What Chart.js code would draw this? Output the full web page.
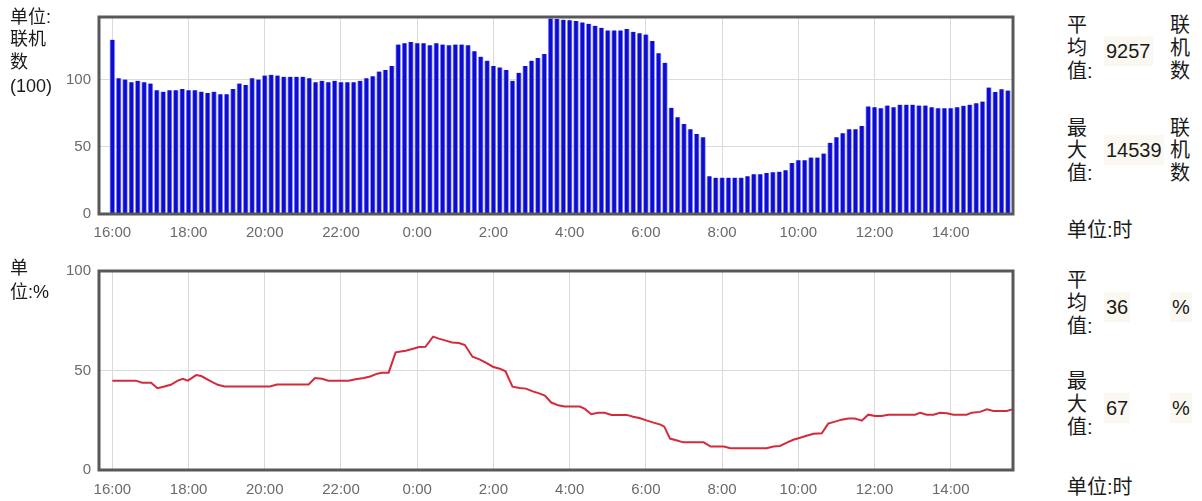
<!DOCTYPE html>
<html>
<head>
<meta charset="utf-8">
<script src="https://cdn.jsdelivr.net/npm/chart.js@4/dist/chart.umd.min.js"></script>
<style>
    body { margin: 0; background: #fff; width: 1202px; height: 501px; overflow: hidden; position: relative; }
    canvas { position: absolute; left: 0; }
    .t { position: absolute; font-family: "Liberation Sans", "Noto Sans CJK SC", sans-serif; color: #1a1a1a; white-space: nowrap; }
    .izq { font-size: 18px; line-height: 22px; }
    .der { font-size: 20px; line-height: 22px; }
    .num { background: #fbf8f1; padding: 4px 2px; }
</style>
</head>
<body>

<canvas id="graficaLinea" width="1040" height="251" style="top:250px"></canvas>
<canvas id="graficaBarras" width="1040" height="245" style="top:0px"></canvas>

<!-- textos de la izquierda -->
<div class="t izq" style="left:10px;top:6px">单位:</div>
<div class="t izq" style="left:10px;top:28px">联机</div>
<div class="t izq" style="left:10px;top:51px">数</div>
<div class="t izq" style="left:10px;top:75px">(100)</div>
<div class="t izq" style="left:10px;top:257px">单</div>
<div class="t izq" style="left:10px;top:281px">位:%</div>

<!-- panel derecho arriba -->
<div class="t der" style="left:1067px;top:14px">平</div>
<div class="t der" style="left:1067px;top:37px">均</div>
<div class="t der" style="left:1067px;top:60px">值:</div>
<div class="t der num" id="promedioBarras" style="left:1104px;top:36px"></div>
<div class="t der" style="left:1170px;top:14px">联</div>
<div class="t der" style="left:1170px;top:37px">机</div>
<div class="t der" style="left:1170px;top:60px">数</div>

<div class="t der" style="left:1067px;top:117px">最</div>
<div class="t der" style="left:1067px;top:139px">大</div>
<div class="t der" style="left:1067px;top:162px">值:</div>
<div class="t der num" id="maximoBarras" style="left:1104px;top:135px"></div>
<div class="t der" style="left:1170px;top:117px">联</div>
<div class="t der" style="left:1170px;top:139px">机</div>
<div class="t der" style="left:1170px;top:162px">数</div>

<div class="t der" style="left:1067px;top:219px">单位:时</div>

<!-- panel derecho abajo -->
<div class="t der" style="left:1067px;top:269px">平</div>
<div class="t der" style="left:1067px;top:292px">均</div>
<div class="t der" style="left:1067px;top:315px">值:</div>
<div class="t der num" id="promedioLinea" style="left:1104px;top:292px"></div>
<div class="t der num" style="left:1170px;top:292px">%</div>

<div class="t der" style="left:1067px;top:370px">最</div>
<div class="t der" style="left:1067px;top:393px">大</div>
<div class="t der" style="left:1067px;top:416px">值:</div>
<div class="t der num" id="maximoLinea" style="left:1104px;top:393px"></div>
<div class="t der num" style="left:1170px;top:393px">%</div>

<div class="t der" style="left:1067px;top:476px">单位:时</div>

<script>
// etiquetas del eje x (minutos desde las 16:00)
const etiquetasHora = ['16:00', '18:00', '20:00', '22:00', '0:00', '2:00', '4:00', '6:00', '8:00', '10:00', '12:00', '14:00'];
const minutosHora = [0, 120, 240, 360, 480, 600, 720, 840, 960, 1080, 1200, 1320];
const pasoBarrasMin = 10;

// 联机数 (100), una barra cada 10 minutos desde las 16:00
const valoresBarras = [
    129.5, 101, 100, 98, 99, 98, 97,
    92, 91, 92, 92, 93, 92, 92, 91, 90, 91, 89, 89,
    93, 97, 96, 101, 100, 103, 103.5, 103, 102, 102, 102, 102, 101, 98, 99, 98,
    99, 98, 98, 98, 99, 101, 102.5, 106, 107, 110,
    126, 127, 128, 127, 127, 125.5, 127, 126, 125.5, 126, 126, 125.5,
    121, 117, 114, 110, 109, 107, 99, 105, 110, 114, 116, 119,
    145.39,
    145, 144.5, 144, 143.5, 142.5, 141.5, 140, 138.5, 136.5, 136.5, 136.5, 137.5,
    135.5, 134.5, 133.5, 128.6, 119.6, 112.4, 79, 72, 67, 63, 59.5, 57,
    28, 27, 27, 27, 27, 27, 28, 29.5, 29.5, 30.5, 31, 31.5, 32.5,
    38, 40, 40, 42, 42, 45, 53, 57, 60, 63, 63, 65.4,
    80, 79.4, 78.6, 80.6, 79.4, 81.3, 81.3, 81.3, 80.6, 80.6, 79.4, 78.6, 78.6, 78.6, 79.4, 80.5, 81.3, 82.3, 83.6,
    94, 90.8, 92.8, 91.8
];
const ticksBarras = [0, 50, 100];

// porcentaje (%)
const minutosLinea = [
    0, 37, 47, 61, 71, 82, 92, 103, 111, 119, 132, 140, 153, 166, 177, 248, 259, 309, 319, 330,
    340, 372, 383, 396, 406, 417, 425, 435, 446, 454, 462, 472, 483, 493, 505, 514, 525, 535, 546, 555,
    567, 578, 588, 599, 610, 619, 630, 641, 651, 662, 672, 681, 691, 702, 712, 736, 744, 754, 765, 775,
    786, 810, 820, 831, 842, 852, 863, 869, 878, 889, 899, 931, 942, 963, 973, 1030, 1041, 1051, 1062, 1072,
    1083, 1093, 1104, 1117, 1127, 1138, 1148, 1159, 1169, 1180, 1190, 1201, 1211, 1222, 1264, 1272, 1282, 1293, 1303, 1314,
    1324, 1345, 1353, 1366, 1377, 1387, 1408, 1418
];
const valoresLinea = [
    44.9, 44.9, 43.9, 43.9, 41.1, 42, 42.8, 44.9, 45.8, 44.9, 47.7, 47.2, 44.9, 42.8, 42, 42, 43, 43, 46.2, 45.8,
    44.9, 44.9, 45.6, 46.2, 47, 48.4, 48.9, 48.9, 59.1, 59.6, 59.9, 60.8, 61.8, 61.9, 67, 66, 65, 64.1, 63.8, 62.8,
    56.9, 55.6, 53.9, 51.9, 50.9, 49.6, 41.9, 41.2, 40.9, 39.5, 38.5, 37.4, 33.9, 32.5, 31.9, 31.9, 30.7, 28, 28.8, 28.8,
    27.7, 27.7, 26.8, 26, 24.8, 23.8, 22.8, 21.8, 15.8, 14.8, 13.9, 13.9, 11.8, 11.8, 10.9, 10.9, 11.8, 12.1, 13.8, 15.2,
    16.2, 17.2, 18.2, 18.5, 23.3, 24.3, 25.3, 25.9, 25.9, 24.8, 27.8, 27.1, 27.1, 27.8, 27.8, 28.8, 27.8, 27.8, 28.8, 28.5,
    27.8, 27.8, 28.8, 29.2, 30.5, 29.7, 29.7, 30.5
];
const ticksLinea = [0, 50, 100];

const promedioBarras = '9257', maximoBarras = '14539';
const promedioLinea = '36', maximoLinea = '67';
document.getElementById('promedioBarras').textContent = promedioBarras;
document.getElementById('maximoBarras').textContent = maximoBarras;
document.getElementById('promedioLinea').textContent = promedioLinea;
document.getElementById('maximoLinea').textContent = maximoLinea;

// marco gris oscuro alrededor del area
const marco = {
    id: 'marco',
    afterDraw(chart) {
        const a = chart.chartArea, ctx = chart.ctx;
        ctx.save();
        ctx.strokeStyle = '#585858';
        ctx.lineWidth = 3;
        ctx.strokeRect(a.left, a.top, a.right - a.left, a.bottom - a.top);
        ctx.restore();
    }
};

function ejeX(padding) {
    return {
        type: 'linear',
        min: -21,
        max: 1418,
        offset: false,
        afterBuildTicks: s => { s.ticks = minutosHora.map(v => ({ value: v })); },
        afterFit: s => { s.height = 31; },
        ticks: {
            padding: padding,
            color: '#6a6a6a',
            font: { family: 'Liberation Sans', size: 15 },
            maxRotation: 0,
            callback: v => etiquetasHora[minutosHora.indexOf(v)]
        },
        grid: { color: '#dadada', drawTicks: false, offset: false },
        border: { display: false }
    };
}

function ejeY(max, ticks) {
    return {
        min: 0,
        max: max,
        afterBuildTicks: s => { s.ticks = ticks.map(v => ({ value: v })); },
        afterFit: s => { s.width = 99; },
        ticks: { padding: 8, color: '#6a6a6a', font: { family: 'Liberation Sans', size: 15 } },
        grid: { color: '#dadada', drawTicks: false },
        border: { display: false }
    };
}

Chart.defaults.animation = false;

var graficaBarras = new Chart(document.getElementById('graficaBarras'), {
    type: 'bar',
    data: {
        datasets: [{
            data: valoresBarras.map((v, i) => ({ x: i * pasoBarrasMin, y: v })),
            backgroundColor: '#0c0cd2',
            borderColor: '#9a9af5',
            borderWidth: { left: 1, right: 1, top: 0, bottom: 0 },
            borderSkipped: false,
            barThickness: 5
        }]
    },
    options: {
        responsive: false,
        layout: { padding: { left: 0, top: 15, right: 27, bottom: 0 } },
        plugins: { legend: { display: false }, tooltip: { enabled: false } },
        scales: { x: ejeX(10), y: ejeY(146.5, ticksBarras) }
    },
    plugins: [marco]
});

var graficaLinea = new Chart(document.getElementById('graficaLinea'), {
    type: 'line',
    data: {
        datasets: [{
            data: minutosLinea.map((m, i) => ({ x: m, y: valoresLinea[i] })),
            borderColor: '#d42a3c',
            borderWidth: 2,
            pointRadius: 0,
            tension: 0,
            fill: false
        }]
    },
    options: {
        responsive: false,
        layout: { padding: { left: 0, top: 21, right: 27, bottom: 0 } },
        plugins: { legend: { display: false }, tooltip: { enabled: false } },
        scales: { x: ejeX(11), y: ejeY(100, ticksLinea) }
    },
    plugins: [marco]
});
</script>
</body>
</html>
